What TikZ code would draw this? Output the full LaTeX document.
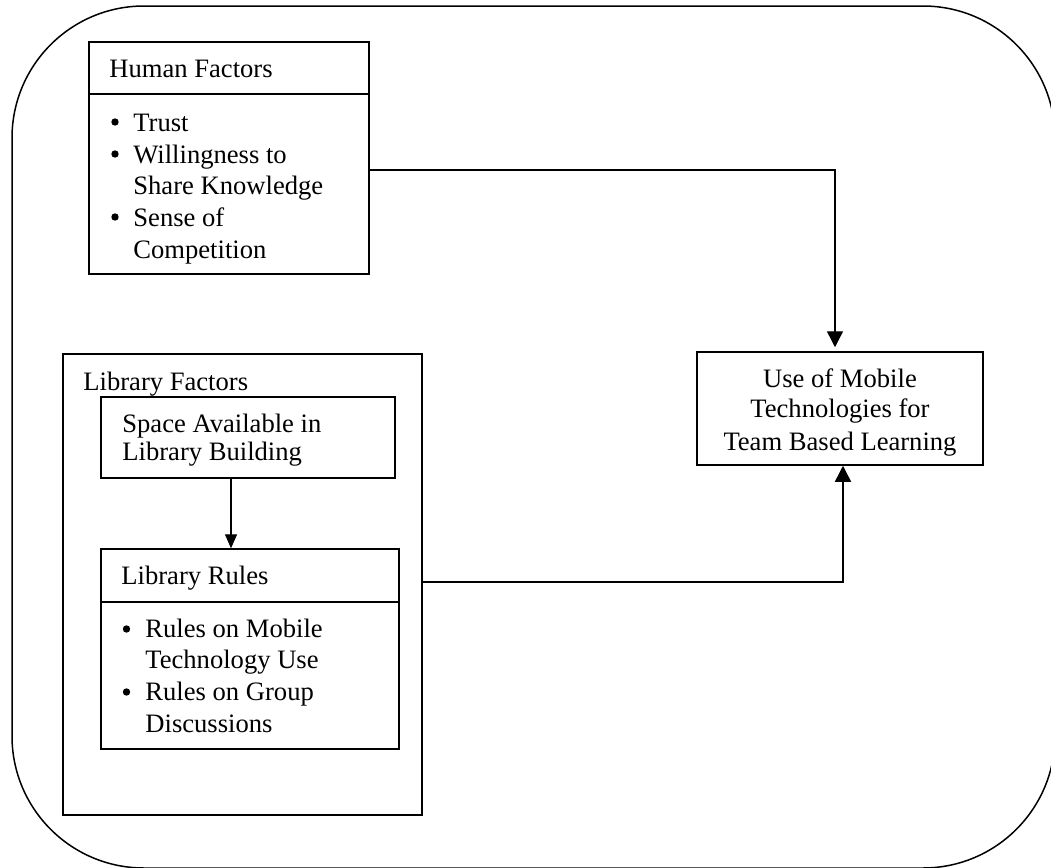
\documentclass[tikz,border=0pt]{standalone}
\usepackage{fontspec}
\setmainfont{Liberation Serif}
\usetikzlibrary{arrows.meta}
\begin{document}
\begin{tikzpicture}[x=0.5pt,y=-0.5pt,
  box/.style={draw,line width=0.75pt,rectangle,inner sep=0pt},
  txt/.style={anchor=base west,inner sep=0pt,font=\fontsize{13.3}{15}\selectfont},
  ctxt/.style={anchor=base,inner sep=0pt,font=\fontsize{13.3}{15}\selectfont},
  bul/.style={circle,fill,inner sep=0pt,minimum size=3.7pt},
  arr/.style={line width=0.7pt,-{Triangle[width=8pt,length=8pt]}},
  sarr/.style={line width=0.7pt,-{Triangle[width=6pt,length=7pt]}}]
\useasboundingbox (0,0) rectangle (1051,868);
% outer rounded frame
\draw[line width=0.75pt,rounded corners=66pt] (12,6) rectangle (1055,868);

% Human Factors
\node[box,minimum width=140pt,minimum height=26pt] (hh) at (229,68) {};
\node[box,minimum width=140pt,minimum height=90pt] (hb) at (229,184) {};
\node[txt] (hht) at (109,77) {Human Factors};
\node[bul] (hb1) at (115,122) {};
\node[txt] (ht1) at (133,131) {Trust};
\node[bul] (hb2) at (115,154) {};
\node[txt] (ht2) at (133,163) {Willingness to};
\node[txt] (ht3) at (133,194.5) {Share Knowledge};
\node[bul] (hb3) at (115,217) {};
\node[txt] (ht4) at (133,226) {Sense of};
\node[txt] (ht5) at (133,258) {Competition};

% Library Factors
\node[box,minimum width=179.5pt,minimum height=230.5pt] (lf) at (242.5,584.5) {};
\node[txt] (lft) at (83,390) {Library Factors};
\node[box,minimum width=147pt,minimum height=40.5pt] (sp) at (248,437.5) {};
\node[txt] (spt1) at (122,432) {Space Available in};
\node[txt] (spt2) at (122,460.5) {Library Building};
\node[box,minimum width=149pt,minimum height=26.5pt] (rh) at (250,575.5) {};
\node[txt] (rht) at (121,584) {Library Rules};
\node[box,minimum width=149pt,minimum height=73.5pt] (rb) at (250,675.5) {};
\node[bul] (rb1) at (126.5,629) {};
\node[txt] (rt1) at (145,637) {Rules on Mobile};
\node[txt] (rt2) at (145,668.5) {Technology Use};
\node[bul] (rb2) at (126.5,692) {};
\node[txt] (rt3) at (145,700) {Rules on Group};
\node[txt] (rt4) at (145,732) {Discussions};

% Target
\node[box,minimum width=143pt,minimum height=56.5pt] (tg) at (840,408.5) {};
\node[ctxt] (tgt1) at (840,387) {Use of Mobile};
\node[ctxt] (tgt2) at (840,417.5) {Technologies for};
\node[ctxt] (tgt3) at (840,450) {Team Based Learning};

% connectors
\draw[sarr] ([xshift=-8.5pt]sp.south) -- ([xshift=-8.5pt]sp.south |- rh.north);
\draw[arr] ([yshift=7pt]hb.east) -| ([xshift=-2.5pt,yshift=2pt]tg.north);
\draw[arr] ([yshift=1.25pt]lf.east) -| ([xshift=1.5pt]tg.south);
\end{tikzpicture}
\end{document}
